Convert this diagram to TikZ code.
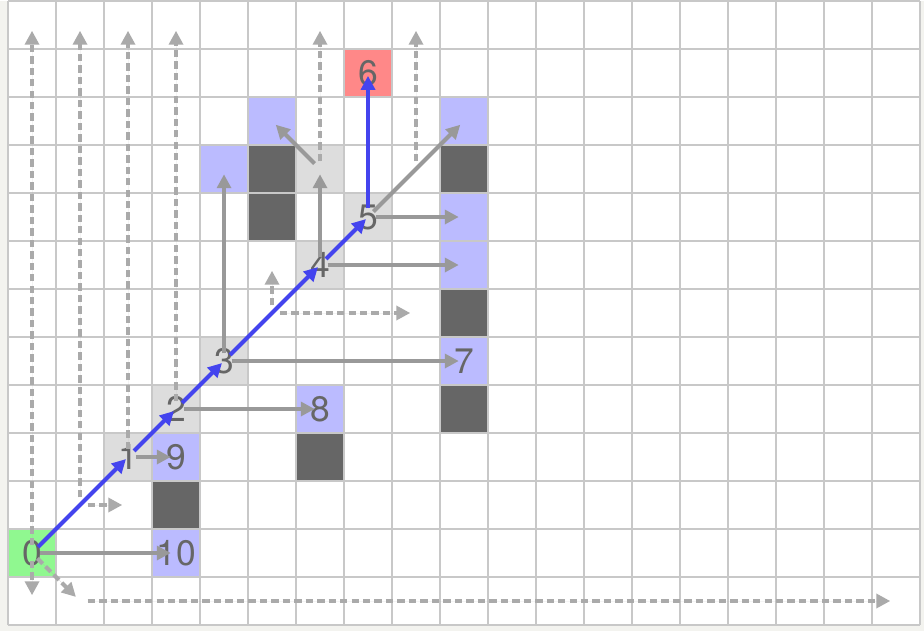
\documentclass[tikz,border=0pt]{standalone}
\usepackage{fontspec}
\setmainfont{TeX Gyre Heros}
\usepackage{tikz}
\usetikzlibrary{arrows.meta,positioning}

\definecolor{paper}{HTML}{F3F3EF}
\definecolor{gridgray}{HTML}{C8C8C8}
\definecolor{startgreen}{HTML}{90F890}
\definecolor{goalred}{HTML}{FF8888}
\definecolor{jumpblue}{HTML}{BBBBFF}
\definecolor{wallgray}{HTML}{666666}
\definecolor{openlight}{HTML}{DDDDDD}
\definecolor{pathblue}{HTML}{4444EE}
\definecolor{raygray}{HTML}{999999}
\definecolor{scangray}{HTML}{AAAAAA}

\begin{document}
\begin{tikzpicture}[x=1cm,y=1cm,>={Triangle[length=0.29cm,width=0.29cm]},
    cell/.style={minimum size=1cm, inner sep=0pt,
        text=wallgray, font=\fontsize{21}{24}\selectfont},
    ray/.style={->, draw=raygray, fill=raygray, line width=2.4pt,
        shorten <=0.16cm, shorten >=0.11cm},
    scan/.style={->, draw=scangray, fill=scangray, line width=2.4pt,
        dash pattern=on 4.4pt off 2.4pt, shorten <=0.16cm, shorten >=0.12cm},
    route/.style={->, draw=pathblue, fill=pathblue, line width=2.4pt,
        shorten <=0.18cm, shorten >=0.06cm}]
            % page and board
            \fill[paper] (-0.167,-0.115) rectangle (19.083,13.01);
            \fill[white] (0,0) rectangle (19,13);

            % walls
            \foreach \c/\r in {3/2, 6/3, 9/4, 9/6, 5/8, 5/9, 9/9}
                \fill[wallgray] (\c,\r) rectangle ++(1,1);

            % visited cells
            \node[cell, fill=startgreen] (n0) at (0.5,1.5) {0};
            \node[cell, fill=openlight] (n1) at (2.5,3.5) {1};
            \node[cell, fill=openlight] (n2) at (3.5,4.5) {2};
            \node[cell, fill=openlight] (n3) at (4.5,5.5) {3};
            \node[cell, fill=openlight] (n4) at (6.5,7.5) {4};
            \node[cell, fill=openlight] (n5) at (7.5,8.5) {5};
            \node[cell, fill=goalred] (n6) at (7.5,11.5) {6};
            \node[cell, fill=jumpblue] (n7) at (9.5,5.5) {7};
            \node[cell, fill=jumpblue] (n8) at (6.5,4.5) {8};
            \node[cell, fill=jumpblue] (n9) at (3.5,3.5) {9};
            \node[cell, fill=jumpblue] (n10) at (3.5,1.5) {10};
            \node[cell, fill=jumpblue] (b1) at (4.5,9.5) {};
            \node[cell, fill=jumpblue] (b2) at (5.5,10.5) {};
            \node[cell, fill=jumpblue] (b3) at (9.5,10.5) {};
            \node[cell, fill=jumpblue] (b4) at (9.5,8.5) {};
            \node[cell, fill=jumpblue] (b5) at (9.5,7.5) {};
            \node[cell, fill=openlight] (g1) at (6.5,9.5) {};

            % ends of the scans
            \coordinate (t0) at (0.5,12.5);
            \coordinate (t1) at (1.5,12.5);
            \coordinate (t2) at (2.5,12.5);
            \coordinate (t3) at (3.5,12.5);
            \coordinate (t6) at (6.5,12.5);
            \coordinate (t8) at (8.5,12.5);
            \coordinate (d0) at (0.5,0.5);
            \coordinate (d1) at (1.5,0.5);
            \coordinate (d18) at (18.5,0.5);
            \coordinate (s1) at (1.5,2.5);
            \coordinate (s2) at (2.5,2.5);
            \coordinate (m0) at (5.5,6.5);
            \coordinate (m1) at (5.5,7.5);
            \coordinate (m2) at (8.5,6.5);
            \coordinate (q8) at (8.5,9.5);

            \draw[gridgray, line width=1.2pt] (0,0) grid (19,13);

            % dashed scans
            \draw[scan] (n0.center) -- (t0);
            \draw[scan] (n0.center) -- (d0);
            \draw[scan] (n0.center) -- (d1);
            \draw[scan] (d1) -- (d18);
            \draw[scan] (s1) -- (t1);
            \draw[scan] (s1) -- (s2);
            \draw[scan] (n1.center) -- (t2);
            \draw[scan] (n2.center) -- (t3);
            \draw[scan] (g1.center) -- (t6);
            \draw[scan] (q8) -- (t8);
            \draw[scan] (m0) -- (m1);
            \draw[scan] (m0) -- (m2);

            % jumps
            \draw[ray] (n0.center) -- (n10.center);
            \draw[ray] (n1.center) -- (n9.center);
            \draw[ray] (n2.center) -- (n8.center);
            \draw[ray] (n3.center) -- (n7.center);
            \draw[ray] (n3.center) -- (b1.center);
            \draw[ray] (n4.center) -- (g1.center);
            \draw[ray] (n4.center) -- (b5.center);
            \draw[ray] (n5.center) -- (b4.center);
            \draw[ray] (n5.center) -- (b3.center);
            \draw[ray] (g1.center) -- (b2.center);

            % found path
            \draw[route] (n0.center) -- (n1.center);
            \draw[route] (n1.center) -- (n2.center);
            \draw[route] (n2.center) -- (n3.center);
            \draw[route] (n3.center) -- (n4.center);
            \draw[route] (n4.center) -- (n5.center);
            \draw[route] (n5.center) -- (n6.center);
        \end{tikzpicture}
\end{document}
